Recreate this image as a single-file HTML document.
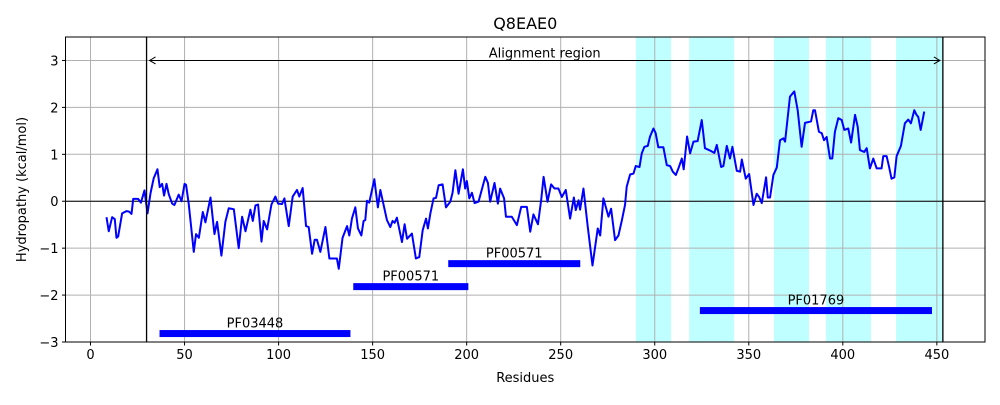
<!DOCTYPE html>
<html><head><meta charset="utf-8"><style>
body{margin:0;background:#fff}
text{font-family:"DejaVu Sans","Liberation Sans",sans-serif;fill:#000}
</style></head><body>
<svg id="chart" width="1000" height="400" xmlns="http://www.w3.org/2000/svg">
<rect width="1000" height="400" fill="#fff"/>
<g id="spans"></g><g id="grid"></g><g id="series"></g><g id="ann"></g><g id="axes"></g>
</svg>
<script>
const residues=[8.5,9.7,11.5,12.9,13.8,14.7,16.8,19.1,20.4,21.8,22.7,25.3,26.8,28.7,30.3,31.9,33.6,35.6,36.8,38.1,39.1,40.4,41.6,43.4,44.6,46.9,48.4,50,50.8,52.2,54.9,56.1,57.6,59.7,61.1,63.8,65.9,67.3,69.6,71.7,73.5,76.2,78.8,80.6,82.4,85,86.3,87.7,89.1,90.9,92.1,93.9,96.2,98.3,99.7,101.8,103.1,105.4,107.5,109.8,111,112.8,114.6,116,117.8,119.2,120.4,122.2,124.9,127,131,132,134,136.4,137.6,139,140.8,142.2,144,145.2,146.1,147,148.2,150.9,152.8,154.1,155.3,157.6,159.4,160.6,161.7,162.9,165.6,167,168.3,170.9,173,174.8,176.6,178.4,179.4,180.7,182.4,183.7,185.1,187.2,189,191.3,192.5,194,195.7,198,199.2,200.1,201.4,202.8,204.2,206.3,209.9,211.3,212.5,214.8,216.6,217.8,219.9,220.9,224,226.7,229,232,233.8,235.5,237.9,239.6,240.9,243,244.9,246.7,248.8,250.6,252.7,255,257,258,259.5,260.3,262.1,264.4,266.9,269.7,271,272.7,275.4,276.8,278.9,280.7,282.5,284.2,285.1,286.9,288.7,289.9,291.9,293.1,294.5,296.3,297.5,299.3,300.5,301.9,304.6,306.4,308.2,309.6,311.2,312.6,314.4,315.4,317.2,318.8,320.6,322.8,325,326.7,329.4,331.7,333,335.3,336.5,338.3,340,341.3,343.6,345.4,346.3,348.4,350.2,352.5,354.2,355.5,356.9,359.2,360.1,361.3,363.1,364.9,366.6,368.4,369.3,371.9,374.2,376,378.1,379.9,383.1,384.3,385.2,387.3,388.8,390,391.4,393.2,394.4,395.8,397.6,399.4,400.8,402.9,404.4,406.5,407.9,409.1,411.4,412.7,414.4,416.2,418,420.6,421.5,423.3,424.5,425.9,427.4,428.6,430.9,433,434.8,436.2,438,439.2,440.1,441.4,443.3];
const hydropathy=[-0.34,-0.64,-0.34,-0.38,-0.78,-0.75,-0.26,-0.21,-0.22,-0.27,0.05,0.05,-0.03,0.23,-0.26,0.17,0.49,0.68,0.3,0.37,0.12,0.37,0.15,-0.05,-0.08,0.14,0,0.37,0.35,-0.05,-1.08,-0.7,-0.78,-0.23,-0.45,0.08,-0.7,-0.44,-1.16,-0.44,-0.15,-0.17,-1.0,-0.33,-0.64,-0.18,-0.42,-0.09,-0.07,-0.86,-0.42,-0.6,-0.07,0.1,-0.05,-0.06,0.06,-0.53,0.1,0.24,0.1,0.28,-0.53,-0.55,-1.12,-0.82,-0.82,-1.08,-0.55,-1.22,-1.22,-1.44,-0.78,-0.53,-0.73,-0.37,-0.13,-0.58,-0.73,-0.42,-0.4,0.01,-0.03,0.47,-0.13,0.24,0.02,-0.4,-0.55,-0.42,-0.46,-0.35,-0.87,-0.49,-0.8,-0.69,-1.22,-1.19,-0.62,-0.37,-0.58,-0.26,0.06,0.07,0.34,0.36,-0.13,-0.01,0.18,0.66,0.16,0.68,0.27,0.43,0.06,0.18,-0.04,-0.01,0.52,0.39,-0.01,0.39,-0.05,0.27,0.06,-0.33,-0.33,-0.51,-0.12,-0.12,-0.65,-0.28,-0.49,0.02,0.52,-0.01,0.36,0.27,0.27,0.09,0.24,-0.37,0.08,-0.19,0.02,-0.18,0.27,-0.55,-1.37,-0.58,-0.73,0.06,-0.33,-0.16,-0.83,-0.73,-0.41,-0.08,0.31,0.57,0.59,0.75,0.73,1.02,1.16,1.18,1.38,1.55,1.45,1.15,1.15,0.77,0.75,0.63,0.56,0.7,0.91,0.68,1.38,1.02,1.27,1.28,1.73,1.13,1.08,1.03,1.2,0.73,0.75,1.18,0.91,1.16,0.65,0.63,0.89,0.48,0.58,-0.08,0.16,0.09,-0.04,0.51,0.08,0.08,0.56,0.72,1.3,1.34,1.27,2.23,2.34,1.94,1.16,1.67,1.7,1.94,1.94,1.48,1.45,1.3,1.37,0.91,0.91,1.48,1.77,1.73,1.52,1.55,1.25,1.84,1.59,1.09,1.05,1.13,0.7,0.91,0.7,0.7,0.96,0.96,0.75,0.48,0.51,0.96,1.18,1.66,1.74,1.66,1.94,1.84,1.8,1.52,1.91];
const spanStarts=[290,318.3,363.4,391,428.3];
const spanEnds=[308.7,342.2,382,415,453.3];
const domainNames=["PF03448","PF00571","PF00571","PF01769"];
const domainStarts=[36.7,139.7,190.2,324];
const domainEnds=[138.2,200.9,260.4,447.4];
const domainLevels=[-2.82,-1.82,-1.33,-2.33];
const alignStart=29.8, alignEnd=453.2;
const xTicks=[0,50,100,150,200,250,300,350,400,450];
const yTicks=[-3,-2,-1,0,1,2,3];

const L=65.5,R=985,T=37,B=342;
const xmin=-13.3,xmax=475.6,ymin=-3,ymax=3.5;
const X=v=>L+(v-xmin)/(xmax-xmin)*(R-L);
const Y=v=>B-(v-ymin)/(ymax-ymin)*(B-T);
const NS="http://www.w3.org/2000/svg";
function mk(tag,attrs,parent,txt){const e=document.createElementNS(NS,tag);for(const k in attrs)e.setAttribute(k,attrs[k]);if(txt!==undefined)e.textContent=txt;document.getElementById(parent).appendChild(e);return e;}

spanStarts.forEach((s,i)=>{
 const r=mk('rect',{x:X(s),y:T,width:X(spanEnds[i])-X(s),height:B-T,fill:'#bfffff'},'spans');
 
 
});
xTicks.forEach(t=>{
 const l=mk('line',{x1:X(t),x2:X(t),y1:T,y2:B,stroke:'#b0b0b0','stroke-width':1},'grid');
 
 
 mk('line',{x1:X(t),x2:X(t),y1:B,y2:B+3.5,stroke:'#000'},'axes');
 const tx=mk('text',{x:X(t),y:B+17,'text-anchor':'middle','font-size':13},'axes',String(t));
 
 
});
yTicks.forEach(t=>{
 const l=mk('line',{x1:L,x2:R,y1:Y(t),y2:Y(t),stroke:'#b0b0b0','stroke-width':1},'grid');
 
 
 mk('line',{x1:L-3.5,x2:L,y1:Y(t),y2:Y(t),stroke:'#000'},'axes');
 const tx=mk('text',{x:L-7,y:Y(t)+5,'text-anchor':'end','font-size':13},'axes',String(t).replace('-','\u2212'));
 
 
});
const zl=mk('line',{x1:L,x2:R,y1:Y(0),y2:Y(0),stroke:'#000','stroke-width':1},'grid');



const p=mk('polyline',{points:residues.map((r,i)=>X(r)+','+Y(hydropathy[i])).join(' '),fill:'none',stroke:'#0000ff','stroke-width':2,'stroke-linejoin':'round'},'series');



[alignStart,alignEnd].forEach(a=>{
 const l=mk('line',{x1:X(a),x2:X(a),y1:T,y2:B,stroke:'#000','stroke-width':1.3},'ann');
 
 
});
const ay=Y(3);
const ar=mk('g',{},'ann');


ar.innerHTML=`<line x1="${X(alignStart)+3}" x2="${X(alignEnd)-3}" y1="${ay}" y2="${ay}" stroke="#000" stroke-width="1"/>
<polyline points="${X(alignStart)+9},${ay-3.5} ${X(alignStart)+3},${ay} ${X(alignStart)+9},${ay+3.5}" fill="none" stroke="#000"/>
<polyline points="${X(alignEnd)-9},${ay-3.5} ${X(alignEnd)-3},${ay} ${X(alignEnd)-9},${ay+3.5}" fill="none" stroke="#000"/>`;
const at=mk('text',{x:(X(alignStart)+X(alignEnd))/2,y:ay-3,'text-anchor':'middle','font-size':13},'ann','Alignment region');



domainNames.forEach((n,i)=>{
 const y=Y(domainLevels[i]);
 const b=mk('rect',{x:X(domainStarts[i]),y:y-3.5,width:X(domainEnds[i])-X(domainStarts[i]),height:7,fill:'#0000ff'},'ann');
 
 
 const t=mk('text',{x:(X(domainStarts[i])+X(domainEnds[i]))/2,y:y-6,'text-anchor':'middle','font-size':13},'ann',n);
 
 
});

const fr=mk('rect',{x:L,y:T,width:R-L,height:B-T,fill:'none',stroke:'#000','stroke-width':1},'axes');


const ti=mk('text',{x:(L+R)/2,y:29,'text-anchor':'middle','font-size':16},'axes','Q8EAE0');


const xl=mk('text',{x:(L+R)/2,y:382,'text-anchor':'middle','font-size':13},'axes','Residues');


const yl=mk('text',{x:0,y:0,'text-anchor':'middle','font-size':13,transform:`translate(26,${(T+B)/2}) rotate(-90)`},'axes','Hydropathy (kcal/mol)');


</script>
</body></html>
